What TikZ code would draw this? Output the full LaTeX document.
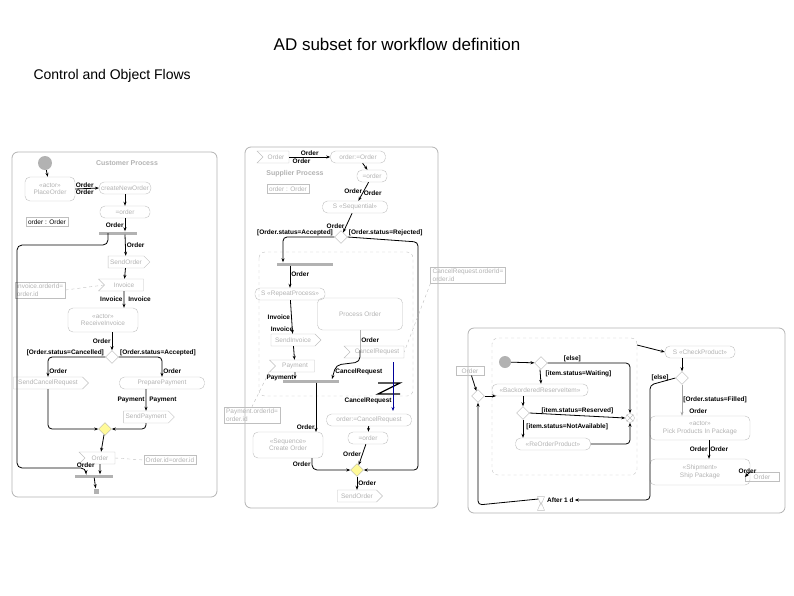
\documentclass[tikz,border=0pt]{standalone}
\usepackage{fontspec}
\setmainfont{Liberation Sans}
\usetikzlibrary{shapes.geometric,shapes.symbols,arrows.meta}
\begin{document}
\begin{tikzpicture}[x=1pt,y=-1pt,
 every node/.style={font=\fontsize{6.5}{7.5}\selectfont},
 lab/.style={font=\fontsize{6.5}{7.5}\selectfont\bfseries, inner sep=1pt},
 act/.style={draw=gray!50, rounded corners=5pt, text=gray!60, align=center, minimum height=12pt, inner sep=2pt},
 sig/.style={draw=gray!50, signal, signal to=east, text=gray!60, minimum height=12pt, inner sep=2pt},
 acc/.style={draw=gray!50, signal, signal from=west, signal to=nowhere, text=gray!60, minimum height=12pt, inner sep=2pt},
 note/.style={draw=gray!50, text=gray!60, align=left, inner sep=2pt},
 dia/.style={draw=gray!60, diamond, minimum size=13pt, inner sep=0pt, fill=white},
 ydia/.style={dia, fill=yellow!40},
 bar/.style={fill=gray!60, minimum width=#1, minimum height=3pt, inner sep=0pt},
 fl/.style={-{Stealth[length=4pt]}, thick},
 panel/.style={draw=gray!60, rounded corners=6pt, thick}]
\useasboundingbox (0,0) rectangle (794,595);
\node[font=\fontsize{17}{20}\selectfont] (title) at (397,44) {AD subset for workflow definition};
\node[font=\fontsize{14}{17}\selectfont, anchor=west] (sub) at (30,76) {Control and Object Flows};

% ---------- Panel 1
\draw[panel] (12,152) rectangle (217,497);
\node[circle, fill=gray!60, minimum size=14pt, inner sep=0pt] (i1) at (45,163) {};
\node[text=gray!60, font=\fontsize{7}{8}\selectfont\bfseries] (cp) at (127,163) {Customer Process};
\node[act, minimum width=50pt, minimum height=24pt] (a1) at (50,189) {«actor»\\PlaceOrder};
\node[act, minimum width=48pt] (a2) at (125,188) {createNewOrder};
\node[act, minimum width=50pt] (a3) at (125,212) {=order};
\node[draw=gray!50, inner sep=2pt] (o1) at (47,222) {order : Order};
\node[bar=38pt] (f1) at (118,233) {};
\node[sig, minimum width=40pt] (s1) at (126,262) {SendOrder};
\node[note] (n1) at (40,290) {invoice.orderId=\\order.id};
\node[acc, minimum width=45pt] (inv) at (124,285) {Invoice};
\node[act, minimum width=70pt, minimum height=24pt] (a4) at (103,320) {«actor»\\ReceiveInvoice};
\node[dia] (d1) at (112,357) {};
\node[sig, minimum width=75pt] (s2) at (48,383) {SendCancelRequest};
\node[act, minimum width=85pt] (a5) at (162,383) {PreparePayment};
\node[sig, minimum width=48pt] (s3) at (146,417) {SendPayment};
\node[ydia] (m1) at (105,429) {};
\node[acc, minimum width=36pt, text=gray!60] (ord1) at (100,458) {Order};
\node[note] (n2) at (170,460) {Order.id=order.id};
\node[bar=38pt] (j1) at (94,476) {};
\node[fill=gray!60, minimum size=5pt, inner sep=0pt] (fin1) at (96,491) {};
\draw[fl] (i1) -- (a1);
\draw[fl] (a1.east) -- (a2.west) node[lab, pos=.4, above] {Order} node[lab, pos=.4, below] {Order};
\draw[fl] (a2) -- (a3);
\draw[fl] (a3) -- node[lab, left, pos=.5] {Order} (f1.north-|a3);
\draw[fl] (f1.south-|a3) -- node[lab, right] {Order} (s1);
\draw[fl] (s1) -- (inv);
\draw[dashed, gray!50] (n1.east) -- (inv.west);
\draw[fl] (inv) -- node[lab, left] {Invoice} node[lab, right, xshift=3pt] {Invoice} (a4.north-|inv);
\draw[fl] (a4.south-|d1) -- node[lab, left] {Order} (d1);
\draw[fl, rounded corners=4pt] (d1.west) -| node[lab, above, pos=.0, anchor=south east] {[Order.status=Cancelled]} node[lab, right, pos=.85] {Order} (s2.north);
\draw[fl, rounded corners=4pt] (d1.east) -| node[lab, above, pos=.0, anchor=south west] {[Order.status=Accepted]} node[lab, right, pos=.85] {Order} (a5.north);
\draw[fl] (a5.south-|s3) -- node[lab, left] {Payment} node[lab, right, xshift=2pt] {Payment} (s3);
\draw[fl, rounded corners=4pt] (s2.south) |- (m1.west);
\draw[fl, rounded corners=4pt] (s3.south) |- (m1.east);
\draw[fl] (m1) -- (ord1);
\draw[dashed, gray!50] (ord1.east) -- (n2.west);
\draw[fl] (ord1) -- node[lab, left, pos=.1, xshift=-4pt] {Order} (j1.north-|ord1);
\draw[fl, rounded corners=5pt] (108,233) -- (108,245) -- (17,245) -- (17,468) -- (86,468) -- (86,474);
\draw[fl] (j1) -- (fin1);

% ---------- Panel 2
\draw[panel] (245,147) rectangle (438,508);
\draw[dashed, gray!50, rounded corners=6pt] (259,252) rectangle (413,396);
\node[acc, minimum width=32pt] (oa) at (276,157) {Order};
\node[act, minimum width=55pt] (b1) at (358,157) {order:=Order};
\node[text=gray!60, font=\fontsize{7}{8}\selectfont\bfseries] (sp) at (295,174) {Supplier Process};
\node[act, minimum width=30pt] (b2) at (372,176) {=order};
\node[draw=gray!50, inner sep=2pt, text=gray!60] (o2) at (288,189) {order : Order};
\node[act, minimum width=65pt] (b3) at (355,207) {S\ «Sequential»};
\node[dia] (d2) at (341,237) {};
\node[bar=56pt] (f2) at (305,264) {};
\node[act, minimum width=70pt] (b4) at (290,294) {S\ «RepeatProcess»};
\node[act, minimum width=85pt, minimum height=32pt] (b5) at (360,314) {Process Order};
\node[sig, minimum width=50pt] (s4) at (293,340) {SendInvoice};
\node[acc, minimum width=60pt] (cr) at (377,352) {CancelRequest};
\node[acc, minimum width=45pt] (pay) at (295,366) {Payment};
\node[bar=56pt] (j2) at (311,381) {};
\node[note] (n3) at (468,275) {CancelRequest.orderId=\\order.id};
\node[note] (n4) at (252,415) {Payment.orderId=\\order.id};
\node[act, minimum width=85pt] (b6) at (369,420) {order:=CancelRequest};
\node[act, minimum width=40pt] (b7) at (368,438) {=order};
\node[act, minimum width=70pt, minimum height=26pt] (b8) at (288,445) {«Sequence»\\Create Order};
\node[ydia] (m2) at (357,470) {};
\node[sig, minimum width=45pt] (s5) at (357,496) {SendOrder};
\draw[fl] (oa.east) -- (b1.west) node[lab, pos=.5, above] {Order} node[lab, pos=.3, below] {Order};
\draw[fl] (b1) -- (b2);
\draw[fl] (b2) -- node[lab, left] {Order} node[lab, right, pos=.6] {Order} (b3);
\draw[fl] (b3) -- node[lab, left, pos=.7] {Order} (d2);
\draw[fl, rounded corners=4pt] (d2.west) -| node[lab, above, pos=0, anchor=south east] {[Order.status=Accepted]} (f2.north-|283,0);
\node[lab, anchor=south west] (rj) at (d2.east) {[Order.status=Rejected]};
\draw[fl, rounded corners=4pt] (d2.east) -- (418,242) -- (418,470) -- (m2.east);
\draw[fl] (f2.south-|290,0) -- node[lab, right, pos=.4] {Order} (b4);
\draw[fl] (b4) -- node[lab, left] {Invoice} (s4);
\node[lab] (iv2) at (282,329) {Invoice};
\draw[fl] (s4) -- (pay);
\draw[fl] (pay) -- node[lab, left, pos=.8] {Payment} (j2.north-|pay);
\draw[thick, gray!60] (b5.south-|360,0) -- node[lab, right, text=black] {Order} (360,350);
\draw[fl, rounded corners=5pt] (360,350) -- (360,362) -- (336,365) -- node[lab, right] {CancelRequest} (332,379);
\draw[dashed, gray!50] (n3.south west) -- (cr.east);
\draw[dashed, gray!50] (pay.south west) -- (n4.north);
\draw[very thick] (378,383) -- (400,383) -- (378,394) -- (400,394);
\draw[fl, blue!60!black] (393,362) -- node[lab, left, text=black, pos=.8] {CancelRequest} (393,411);
\draw[fl] (b6) -- (b7);
\draw[fl] (b7) -- node[lab, left] {Order} (m2);
\draw[fl] (j2.south-|316,0) -- node[lab, left, pos=.9] {Order} (316,432);
\draw[fl, rounded corners=5pt] (b8.south-|312,0) -- node[lab, left] {Order} (312,470) -- (m2.west);
\draw[fl] (m2) -- node[lab, right] {Order} (s5);

% ---------- Panel 3
\draw[panel] (468,328) rectangle (785,513);
\draw[dashed, gray!50, rounded corners=6pt] (492,338) rectangle (637,475);
\node[draw=gray!50, inner sep=2pt, text=gray!60, minimum width=28pt] (or3) at (470,371) {Order};
\node[dia] (d3) at (478,396) {};
\node[circle, fill=gray!60, minimum size=12pt, inner sep=0pt] (i3) at (505,362) {};
\node[dia] (d4) at (541,363) {};
\node[act, minimum width=96pt] (c1) at (540,390) {«BackorderedReserveItem»};
\node[dia] (d5) at (523,413) {};
\node[circle, draw=gray!50, minimum size=9pt, inner sep=0pt] (ff) at (630,418) {};
\draw[gray!50] (ff.north east) -- (ff.south west) (ff.north west) -- (ff.south east);
\node[act, minimum width=75pt] (c2) at (553,444) {«ReOrderProduct»};
\node[act, minimum width=70pt] (c3) at (700,352) {S\ «CheckProduct»};
\node[dia] (d6) at (682,378) {};
\node[act, minimum width=100pt, minimum height=24pt] (c4) at (700,428) {«actor»\\Pick Products In Package};
\node[act, minimum width=100pt, minimum height=26pt] (c5) at (700,472) {«Shipment»\\Ship Package};
\node[draw=gray!50, inner sep=2pt, text=gray!60, minimum width=34pt] (or4) at (762,477) {Order};
\node[draw=gray!50, isosceles triangle, shape border rotate=90, minimum size=7pt, inner sep=0pt] (hg1) at (541,508) {};
\node[draw=gray!50, isosceles triangle, shape border rotate=-90, minimum size=7pt, inner sep=0pt] (hg2) at (541,499) {};
\node[lab, anchor=west] (af) at (546,500) {After 1 d};
\draw[fl] (or3) -- (d3);
\draw[fl] (d3.east) -- (496,396);
\draw[fl] (i3) -- (d4);
\draw[fl, rounded corners=4pt] (d4.east) -- node[lab, above, pos=.3] {[else]} (630,363) -- (ff.north);
\draw[fl] (d4.south-|c1.north) -- node[lab, right, pos=.3, xshift=4pt] {[item.status=Waiting]} (c1.north-|d4);
\draw[fl] (c1.south-|d5) -- (d5);
\draw[fl] (d5.east) -- node[lab, above] {[item.status=Reserved]} (ff.west);
\draw[fl] (d5.south) -- node[lab, right, pos=.4, xshift=2pt, anchor=west] {[item.status=NotAvailable]} (d5.south|-c2.north);
\draw[fl, rounded corners=4pt] (c2.east) -- (630,444) -- (ff.south);
\draw[fl] (637,345) -- (c3.west);
\draw[fl] (c3.south-|d6) -- (d6);
\draw[fl, rounded corners=4pt] (d6.west) -- node[lab, above, pos=.6] {[else]} (650,385) -- (650,500) -- (af.east);
\draw[fl, gray!70] (d6.south) -- node[lab, right, text=black] {[Order.status=Filled]} node[lab, right, text=black, pos=.85, xshift=6pt] {Order} (c4.north-|d6);
\draw[fl] (c4.south-|709,0) -- node[lab, left] {Order} node[lab, right] {Order} (c5.north-|709,0);
\draw[fl] (c5.east) -- node[lab, above] {Order} (or4.west);
\draw[fl, rounded corners=4pt] (hg2.west) -- (478,505) -- (d3.south);
\end{tikzpicture}
\end{document}
